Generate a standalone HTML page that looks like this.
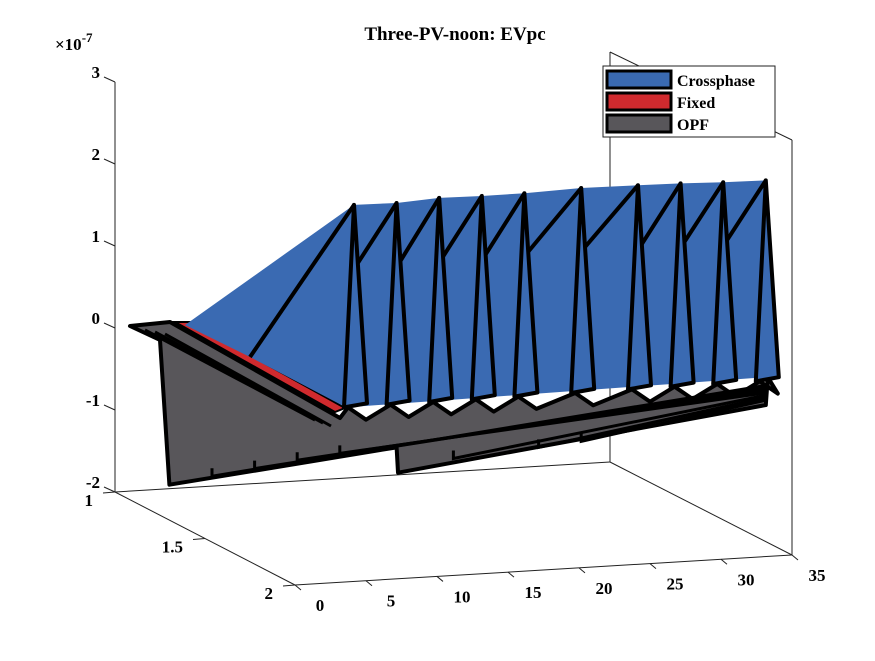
<!DOCTYPE html>
<html><head><meta charset="utf-8"><style>
body{margin:0;background:#fff;}
svg{font-family:"Liberation Serif",serif;font-weight:bold;}
</style></head><body>
<svg width="875" height="656" viewBox="0 0 875 656">
<rect width="875" height="656" fill="#fff"/>
<g id="axes" stroke="#222" stroke-width="1" fill="none">
  <line x1="115" y1="82" x2="115" y2="492"/>
  <line x1="115" y1="492" x2="295" y2="585"/>
  <line x1="295" y1="585" x2="792" y2="555"/>
  <line x1="115" y1="492" x2="610" y2="462"/>
  <line x1="610" y1="462" x2="792" y2="555"/>
  <line x1="610" y1="52" x2="610" y2="462"/>
  <line x1="792" y1="140" x2="792" y2="555"/>
  <line x1="610" y1="52" x2="792" y2="140"/>
</g>
<g id="ticks" fill="#000" font-size="17"></g>
<g id="series"></g>
<text x="455" y="40" text-anchor="middle" font-size="19">Three-PV-noon: EVpc</text>
<text x="55" y="50" font-size="17">×10<tspan dy="-8" font-size="13">-7</tspan></text>
<g>
  <rect x="603" y="66" width="172" height="71" fill="#fff" stroke="#222"/>
  <g><rect x="607" y="71" width="64" height="17" fill="#3a6ab2" stroke="#000" stroke-width="3"/><text x="677" y="86" font-size="16">Crossphase</text></g>
  <g><rect x="607" y="93" width="64" height="17" fill="#d02a2e" stroke="#000" stroke-width="3"/><text x="677" y="108" font-size="16">Fixed</text></g>
  <g><rect x="607" y="115" width="64" height="17" fill="#58565a" stroke="#000" stroke-width="3"/><text x="677" y="130" font-size="16">OPF</text></g>
</g>
</svg>
<script>
const zTicks=[3,2,1,0,-1,-2];
const zTickLabels=["3","2","1","0","-1","-2"];
const yTicks=[1,1.5,2];
const yTickLabels=["1","1.5","2"];
const xTicks=[0,5,10,15,20,25,30,35];
const xTickLabels=["0","5","10","15","20","25","30","35"];
const spikeX=[5,8,11,14,17,21,25,28,31,34];
const crossVals=[2.02,2.01,2.04,2.03,2.03,2.05,2.04,2.03,2.01,2.0];
const fixedVals=[-0.35,-0.35,-0.35,-0.35,-0.35,-0.35,-0.35,-0.35,-0.35,-0.35];
const opfX=[34,8.1,8,-8];
const opfVals=[-0.74,-1.28,-0.97,-1.25];
const sheetX=[-5,-2,1,4,12,18,21];
const sheetVals=[-1.18,-1.12,-1.05,-1.0,-1.15,-1.08,-1.04];
const NS="http://www.w3.org/2000/svg";
function axZ(z){return 492-(z+2)*82;}
function axY(y){return [115+(y-1)*180,492+(y-1)*93];}
function axX(x){return [295+x*14.2,585-x*0.857];}
function px(x){return 283+14.2*x;}
function pz(x,z){return 375-0.9*x-82*z;}
function el(tag,attrs,parent){const e=document.createElementNS(NS,tag);for(const k in attrs)e.setAttribute(k,attrs[k]);parent.appendChild(e);return e;}
const tk=document.getElementById('ticks');
zTicks.forEach((z,i)=>{
  const y=axZ(z);
  const l=el('line',{x1:115,y1:y,x2:104,y2:y-5,stroke:'#222'},tk);
  
  
  const t=el('text',{x:100,y:y-4,'text-anchor':'end'},tk);t.textContent=zTickLabels[i];
  
  
});
yTicks.forEach((v,i)=>{
  const p=axY(v);
  const l=el('line',{x1:p[0],y1:p[1],x2:p[0]-12,y2:p[1]+1,stroke:'#222'},tk);
  
  
  const t=el('text',{x:p[0]-22,y:p[1]+14,'text-anchor':'end'},tk);t.textContent=yTickLabels[i];
  
  
});
xTicks.forEach((v,i)=>{
  const p=axX(v);
  const l=el('line',{x1:p[0],y1:p[1],x2:p[0]+6,y2:p[1]+5,stroke:'#222'},tk);
  
  
  const t=el('text',{x:p[0]+25,y:p[1]+26,'text-anchor':'middle'},tk);t.textContent=xTickLabels[i];
  
  
});
const S=document.getElementById('series');
const gp=[[130,326],[170,322],[340,418]];
spikeX.forEach(x=>gp.push([px(x)-6,pz(x,-0.45)],[px(x)+12,pz(x,-0.6)]));
gp.push([px(34)+2,pz(34,-0.4)]);
opfX.forEach((x,i)=>gp.push([px(x),pz(x,opfVals[i])]));
gp.push([160,340]);
const opf=el('polygon',{points:gp.map(p=>p.join(',')).join(' '),fill:'#58565a',stroke:'#000','stroke-width':4,'stroke-linejoin':'round'},S);


sheetX.forEach((x,i)=>{
  const x0=px(x),y0=pz(x,sheetVals[i]);
  const l=el('polyline',{points:`${x0},${y0-8} ${x0},${y0} ${px(34)},${pz(34,-0.5-i*0.03)}`,fill:'none',stroke:'#000','stroke-width':3},S);
  
  
});
for(let k=0;k<3;k++){
  const l=el('polyline',{points:`${145+k*10},${330+k*2} ${315+k*8},${420+k*3}`,fill:'none',stroke:'#000','stroke-width':3},S);
  
  
}
const fr=el('polygon',{points:`175,322 190,322 345,408 335,412`,fill:'#d02a2e',stroke:'#000','stroke-width':2},S);


spikeX.forEach((x,i)=>{
  const b=pz(x,fixedVals[i]);
  const t=el('polygon',{points:`${px(x)-10},${b} ${px(x)+4},${b-10} ${px(x)+6},${b+4}`,fill:'#d02a2e',stroke:'#000','stroke-width':2},S);
  
  
});
const bp=[[185,325]];
spikeX.forEach((x,i)=>bp.push([px(x),pz(x,crossVals[i])]));
const last=spikeX[spikeX.length-1];
bp.push([px(last),pz(last,-0.4)],[px(spikeX[0])-8,pz(spikeX[0],-0.45)],[250,357]);
const bb=el('polygon',{points:bp.map(p=>p.join(',')).join(' '),fill:'#3a6ab2'},S);


spikeX.forEach((x,i)=>{
  const tx=px(x),ty=pz(x,crossVals[i]);
  const d=el('line',{x1:i==0?250:px(spikeX[i-1])+4,y1:i==0?357:pz(spikeX[i-1],crossVals[i-1]*0.65),x2:tx,y2:ty,stroke:'#000','stroke-width':4},S);
  
  
  const t=el('polygon',{points:`${tx},${ty} ${tx-10},${pz(x,-0.45)} ${tx+13},${pz(x,-0.4)}`,fill:'#3a6ab2',stroke:'#000','stroke-width':4,'stroke-linejoin':'round'},S);
  
  
});
</script>
</body></html>
